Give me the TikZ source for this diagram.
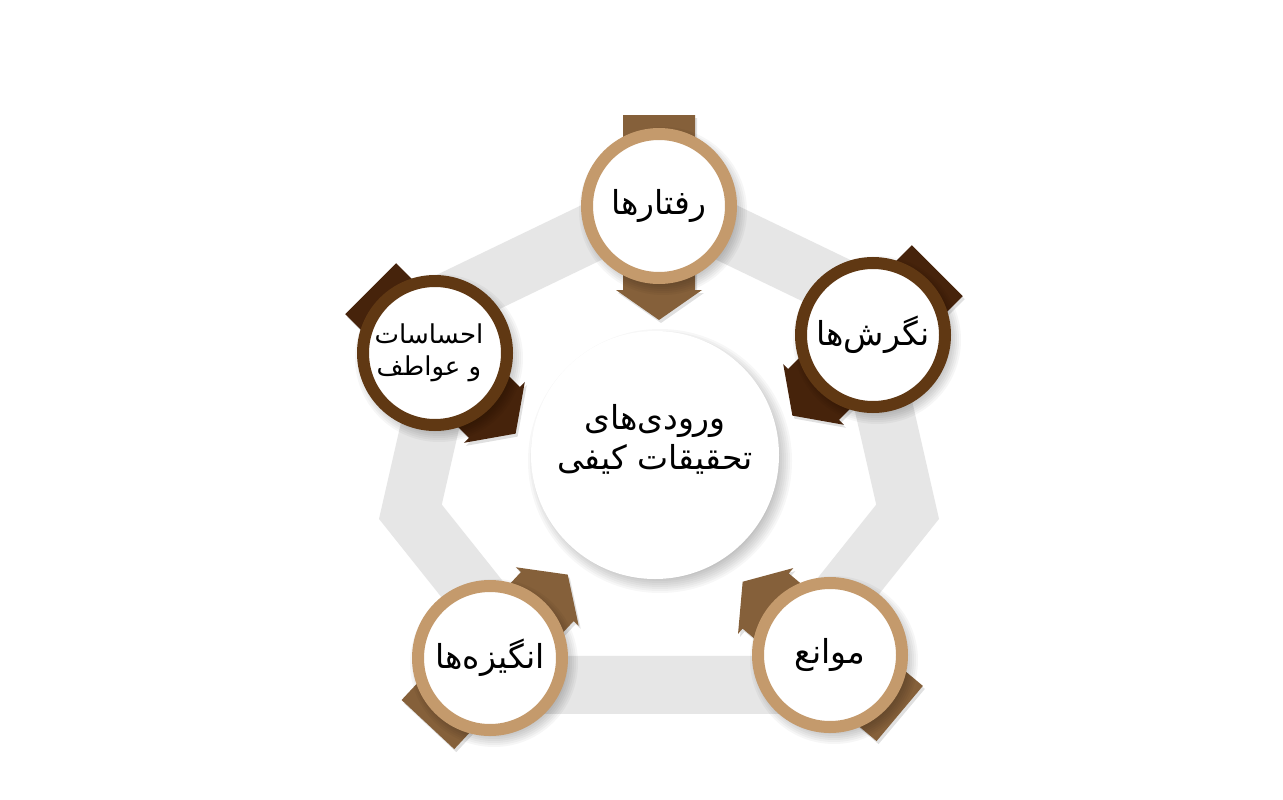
\documentclass[tikz,border=0pt]{standalone}
\usepackage{fontspec}
\newfontfamily\arabicfont[Script=Arabic]{DejaVu Sans}
\TeXXeTstate=1
\definecolor{bandgray}{HTML}{E6E6E6}
\definecolor{tanring}{HTML}{C49A6C}
\definecolor{darkring}{HTML}{603813}
\definecolor{midarrow}{HTML}{85603A}
\definecolor{darkarrow}{HTML}{46230B}
\newcommand\pointerarrow[3]{%
  \fill[black, opacity=0.12, shift={(#1)}, shift={(2,3)}, rotate=#2]
    (-91,-36) -- (84,-36) -- (84,-43) -- (114,0) -- (84,43) -- (84,36) -- (-91,36) -- cycle;
  \fill[#3, shift={(#1)}, rotate=#2]
    (-91,-36) -- (84,-36) -- (84,-43) -- (114,0) -- (84,43) -- (84,36) -- (-91,36) -- cycle;}
% soft shadow: coordinate, radius, x offset, y offset
\newcommand\softshade[4]{%
  \foreach \k in {0,...,9}{%
    \fill[black, opacity=0.035, shift={(#1)}] (#3,#4) circle ({#2+10-2*\k});}}
\begin{document}
\begin{tikzpicture}[x=1pt,y=-1pt,
  ringnode/.style={circle, draw, line width=12pt, fill=white, minimum size=144pt,
    inner sep=0pt, align=center, font=\arabicfont\fontsize{33}{40}\selectfont},
  lightring/.style={ringnode, draw=tanring},
  darkringnode/.style={ringnode, draw=darkring},
  centrenode/.style={circle, fill=white, minimum size=248pt, inner sep=0pt},
  centretext/.style={align=center, inner sep=0pt, font=\arabicfont\fontsize{33}{40}\selectfont},
  band/.style={draw=bandgray, line width=58pt, line join=miter}
]
\useasboundingbox[fill=white] (0,0) rectangle (1283,800);
% heptagon band
\draw[band] (659,200) -- (459.63,296.01) -- (410.39,511.74) -- (548.36,684.75)
  -- (769.64,684.75) -- (907.61,511.74) -- (858.37,296.01) -- cycle;
% node centres
\coordinate (cT) at (659,206);
\coordinate (cL) at (435,353);
\coordinate (cR) at (873,335);
\coordinate (cBL) at (490,658);
\coordinate (cBR) at (830,655);
\coordinate (cC) at (655,455);
% pointer arrows behind the circles
\pointerarrow{cT}{-90}{midarrow}
\pointerarrow{cL}{-45}{darkarrow}
\pointerarrow{cR}{-135}{darkarrow}
\pointerarrow{cBL}{47}{midarrow}
\pointerarrow{cBR}{140}{midarrow}
% shadows
\softshade{cT}{74}{4}{5}
\softshade{cL}{74}{4}{5}
\softshade{cR}{74}{4}{5}
\softshade{cBL}{74}{4}{5}
\softshade{cBR}{74}{4}{5}
% circles
\node[lightring] (top) at (cT) {\beginR رفتارها\endR};
\node[darkringnode, font=\arabicfont\fontsize{26}{32}\selectfont] (left) at (cL)
  {\beginR احساسات\endR\hspace*{12pt}\\\beginR و عواطف\endR\hspace*{12pt}};
\node[darkringnode] (right) at (cR) {\beginR نگرش^^^^200cها\endR};
\node[lightring] (botleft) at (cBL) {\beginR انگیزه^^^^200cها\endR};
\node[lightring] (botright) at (cBR) {\beginR موانع\endR};
% centre
\foreach \k in {0,...,11}{%
  \fill[black, opacity=0.03] ([shift={(5,6)}]cC) circle ({120+12-2*\k});}
\node[centrenode] (centre) at (cC) {};
\node[centretext] (centrelabel) at ([yshift=16pt]centre.center)
  {\beginR ورودی^^^^200cهای\endR\\\beginR تحقیقات کیفی\endR};
\end{tikzpicture}
\end{document}
